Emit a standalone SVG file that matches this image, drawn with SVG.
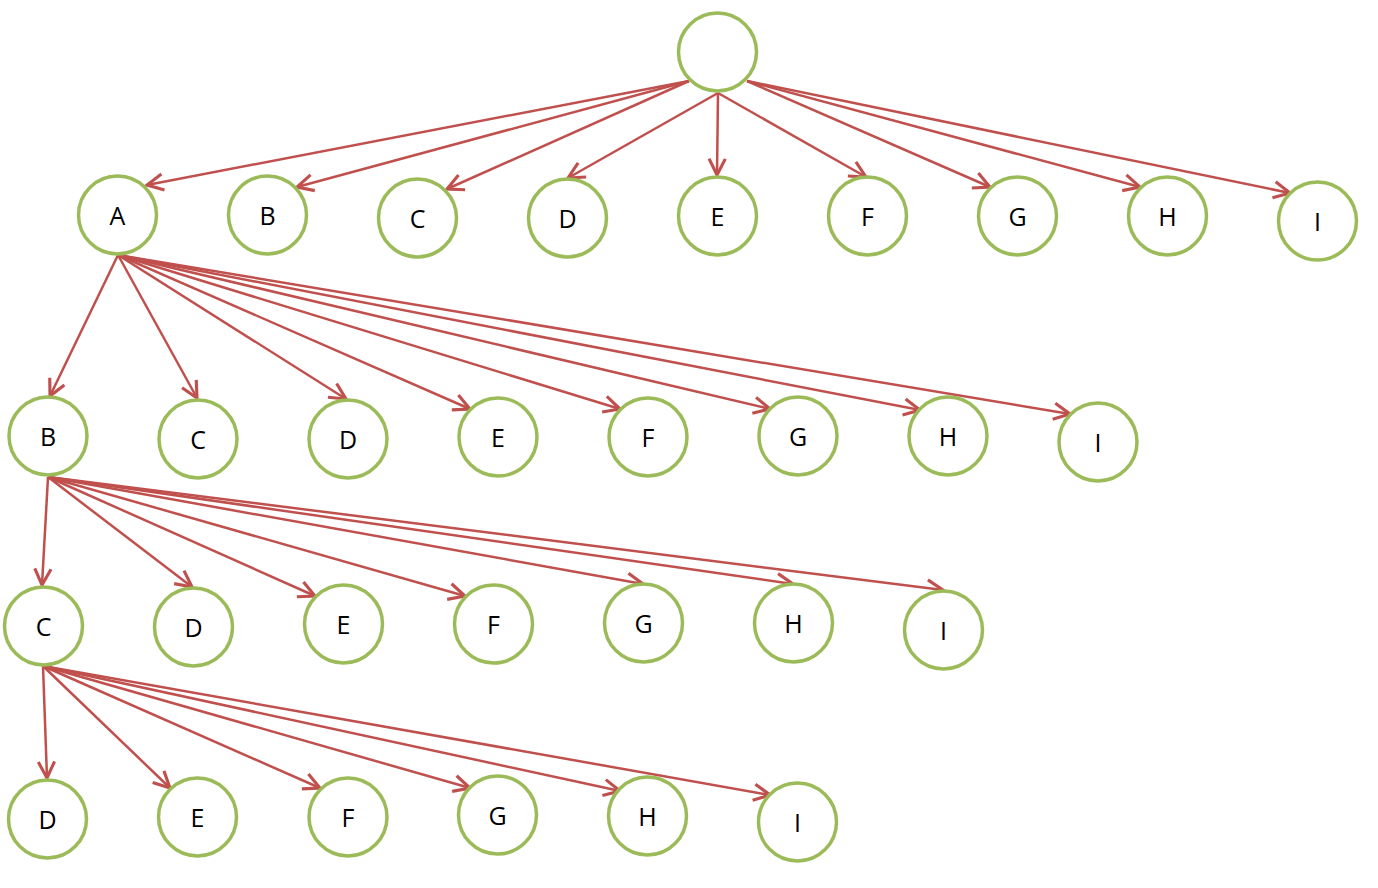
<svg xmlns="http://www.w3.org/2000/svg" width="1378" height="888" viewBox="0 0 1378 888">
<style>
.n circle{fill:#fff;stroke:#9BBB59;stroke-width:3.5}
.n text{font-family:"Open Sans","Liberation Sans",sans-serif;font-size:25px;fill:#000;text-anchor:middle;dominant-baseline:central}
.e line{stroke:#C0504D;stroke-width:2.5;fill:none;marker-end:url(#ah)}
</style>
<defs>
<marker id="ah" markerUnits="userSpaceOnUse" markerWidth="20" markerHeight="20" viewBox="-14 -8 16 16" refX="0" refY="0" orient="auto">
<path d="M-13,-6.5 L0,0 L-13,6.5" fill="none" stroke="#C0504D" stroke-width="2.5" stroke-linejoin="miter"/>
</marker>
</defs>
<rect width="1378" height="888" fill="#fff"/>
<g id="edges" class="e">
<line x1="689" y1="81" x2="147" y2="185"/>
<line x1="689" y1="81" x2="297" y2="187"/>
<line x1="689" y1="81" x2="447" y2="189"/>
<line x1="718" y1="93" x2="568" y2="178"/>
<line x1="718" y1="93" x2="717" y2="175"/>
<line x1="718" y1="93" x2="866" y2="177"/>
<line x1="747" y1="81" x2="990" y2="187"/>
<line x1="747" y1="81" x2="1140" y2="187"/>
<line x1="747" y1="81" x2="1290" y2="193"/>
<line x1="118" y1="255" x2="50" y2="396"/>
<line x1="118" y1="255" x2="197" y2="398"/>
<line x1="118" y1="255" x2="346" y2="399"/>
<line x1="118" y1="255" x2="470" y2="409"/>
<line x1="118" y1="255" x2="620" y2="409"/>
<line x1="118" y1="255" x2="770" y2="409"/>
<line x1="118" y1="255" x2="920" y2="410"/>
<line x1="118" y1="255" x2="1070" y2="414"/>
<line x1="48" y1="477" x2="42" y2="585"/>
<line x1="48" y1="477" x2="192" y2="587"/>
<line x1="48" y1="477" x2="315" y2="596"/>
<line x1="48" y1="477" x2="465" y2="596"/>
<line x1="48" y1="477" x2="643" y2="584"/>
<line x1="48" y1="477" x2="793" y2="584"/>
<line x1="48" y1="477" x2="943" y2="590"/>
<line x1="43" y1="666" x2="47" y2="778"/>
<line x1="43" y1="666" x2="170" y2="788"/>
<line x1="43" y1="666" x2="320" y2="788"/>
<line x1="43" y1="666" x2="470" y2="788"/>
<line x1="43" y1="666" x2="620" y2="791"/>
<line x1="43" y1="666" x2="770" y2="795"/>
</g>
<g id="root" class="n"><circle cx="717.5" cy="52" r="39"/></g>
<g id="r1A" class="n"><circle cx="117.5" cy="215" r="39"/><text x="117.5" y="215">A</text></g>
<g id="r1B" class="n"><circle cx="267.5" cy="215" r="39"/><text x="267.5" y="215">B</text></g>
<g id="r1C" class="n"><circle cx="417.5" cy="218" r="39"/><text x="417.5" y="218">C</text></g>
<g id="r1D" class="n"><circle cx="567.5" cy="218" r="39"/><text x="567.5" y="218">D</text></g>
<g id="r1E" class="n"><circle cx="717.5" cy="216" r="39"/><text x="717.5" y="216">E</text></g>
<g id="r1F" class="n"><circle cx="867.5" cy="216" r="39"/><text x="867.5" y="216">F</text></g>
<g id="r1G" class="n"><circle cx="1017.5" cy="216" r="39"/><text x="1017.5" y="216">G</text></g>
<g id="r1H" class="n"><circle cx="1167.5" cy="216" r="39"/><text x="1167.5" y="216">H</text></g>
<g id="r1I" class="n"><circle cx="1317.5" cy="221" r="39"/><text x="1317.5" y="221">I</text></g>
<g id="r2B" class="n"><circle cx="48" cy="436" r="39"/><text x="48" y="436">B</text></g>
<g id="r2C" class="n"><circle cx="198" cy="439" r="39"/><text x="198" y="439">C</text></g>
<g id="r2D" class="n"><circle cx="348" cy="439" r="39"/><text x="348" y="439">D</text></g>
<g id="r2E" class="n"><circle cx="498" cy="437" r="39"/><text x="498" y="437">E</text></g>
<g id="r2F" class="n"><circle cx="648" cy="437" r="39"/><text x="648" y="437">F</text></g>
<g id="r2G" class="n"><circle cx="798" cy="436" r="39"/><text x="798" y="436">G</text></g>
<g id="r2H" class="n"><circle cx="948" cy="436" r="39"/><text x="948" y="436">H</text></g>
<g id="r2I" class="n"><circle cx="1098" cy="442" r="39"/><text x="1098" y="442">I</text></g>
<g id="r3C" class="n"><circle cx="43.5" cy="626" r="39"/><text x="43.5" y="626">C</text></g>
<g id="r3D" class="n"><circle cx="193.5" cy="627" r="39"/><text x="193.5" y="627">D</text></g>
<g id="r3E" class="n"><circle cx="343.5" cy="624" r="39"/><text x="343.5" y="624">E</text></g>
<g id="r3F" class="n"><circle cx="493.5" cy="624" r="39"/><text x="493.5" y="624">F</text></g>
<g id="r3G" class="n"><circle cx="643.5" cy="623" r="39"/><text x="643.5" y="623">G</text></g>
<g id="r3H" class="n"><circle cx="793.5" cy="623" r="39"/><text x="793.5" y="623">H</text></g>
<g id="r3I" class="n"><circle cx="943.5" cy="630" r="39"/><text x="943.5" y="630">I</text></g>
<g id="r4D" class="n"><circle cx="47.5" cy="819" r="39"/><text x="47.5" y="819">D</text></g>
<g id="r4E" class="n"><circle cx="197.5" cy="817" r="39"/><text x="197.5" y="817">E</text></g>
<g id="r4F" class="n"><circle cx="348" cy="817" r="39"/><text x="348" y="817">F</text></g>
<g id="r4G" class="n"><circle cx="497.5" cy="815" r="39"/><text x="497.5" y="815">G</text></g>
<g id="r4H" class="n"><circle cx="647.5" cy="816" r="39"/><text x="647.5" y="816">H</text></g>
<g id="r4I" class="n"><circle cx="797.5" cy="822" r="39"/><text x="797.5" y="822">I</text></g>
</svg>
